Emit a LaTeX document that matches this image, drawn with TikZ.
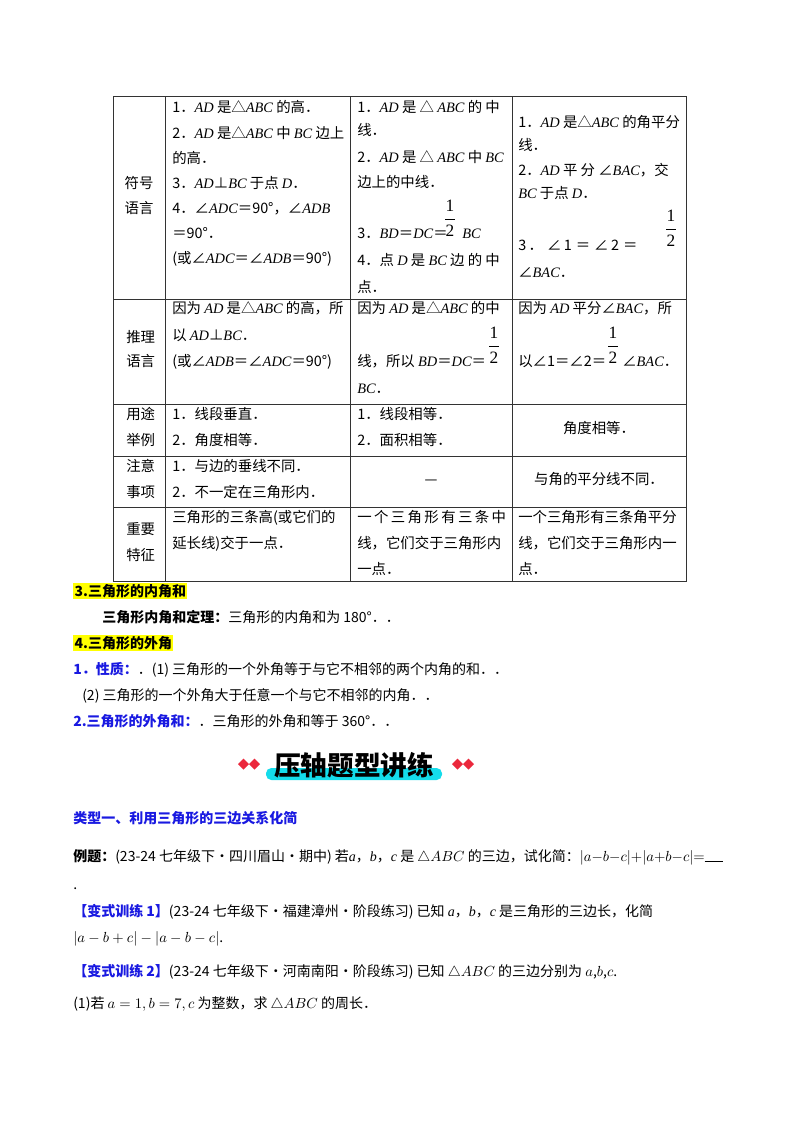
\documentclass[tikz,border=0pt]{standalone}
\usepackage{fontspec}
\setmainfont{Noto Sans CJK SC}
\newfontfamily\lserif{Liberation Serif}
\newcommand\itx[1]{{\lserif\itshape #1}}
\newcommand\rmx[1]{{\lserif #1}}
\definecolor{bl}{RGB}{25,25,225}
\definecolor{hy}{RGB}{255,255,0}
\definecolor{dred}{RGB}{235,40,60}
\definecolor{cy}{RGB}{20,220,235}
\tikzset{t/.style={anchor=base west,inner sep=0pt,font=\fontsize{10.8pt}{12pt}\selectfont},
c/.style={anchor=base,inner sep=0pt,font=\fontsize{10.8pt}{12pt}\selectfont},
q/.style={anchor=base west,inner sep=0pt,font=\fontsize{10.5pt}{12pt}\selectfont},
grid/.style={draw=black!80,line width=0.6pt}}
\newcommand\half[3]{\node[c,font=\fontsize{13pt}{14pt}\selectfont] (#1a) at (#2,#3) {\rmx{2}};
\node[c,font=\fontsize{13pt}{14pt}\selectfont] (#1b) at (#2,#3-25) {\rmx{1}};
\draw[line width=0.5pt] (#2-5,#3-17) -- (#2+5,#3-17);}
\begin{document}
\begin{tikzpicture}[x=0.75pt,y=-0.75pt]
\useasboundingbox[fill=white] (0,0) rectangle (800,1132);
% table grid
\draw[grid] (113,96) rectangle (686,581);
\foreach \xx in {165,350,512} \draw[grid] (\xx,96) -- (\xx,581);
\foreach \yy in {299,404,456,507} \draw[grid] (113,\yy) -- (686,\yy);
% row 1
\node[c] (l1a) at (139,188) {符号};
\node[c] (l1b) at (139,213) {语言};
\node[t] (a1) at (172,112) {1．\itx{AD} 是△\itx{ABC} 的高．};
\node[t] (a2) at (172,138) {2．\itx{AD} 是△\itx{ABC} 中 \itx{BC} 边上};
\node[t] (a3) at (172,163) {的高．};
\node[t] (a4) at (172,188) {3．\itx{AD}⊥\itx{BC} 于点 \itx{D}．};
\node[t] (a5) at (172,213) {4．∠\itx{ADC}＝90°，∠\itx{ADB}};
\node[t] (a6) at (172,238) {＝90°．};
\node[t] (a7) at (172,263) {(或∠\itx{ADC}＝∠\itx{ADB}＝90°)};
\node[t] (b1) at (357,112) {1．\itx{AD} 是 △ \itx{ABC} 的 中};
\node[t] (b2) at (357,135) {线．};
\node[t] (b3) at (357,162) {2．\itx{AD} 是 △ \itx{ABC} 中 \itx{BC}};
\node[t] (b4) at (357,187) {边上的中线．};
\node[t] (b5) at (357,238) {3．\itx{BD}＝\itx{DC}＝\hspace{11pt}\itx{BC}};
\half{bh}{450}{236}
\node[t] (b6) at (357,265) {4．点 \itx{D} 是 \itx{BC} 边 的 中};
\node[t] (b7) at (357,292) {点．};
\node[t] (c1) at (518,127) {1．\itx{AD} 是△\itx{ABC} 的角平分};
\node[t] (c2) at (518,150) {线．};
\node[t] (c3) at (518,175) {2．\itx{AD} 平 分 ∠\itx{BAC}，交};
\node[t] (c4) at (518,198) {\itx{BC} 于点 \itx{D}．};
\node[t] (c5) at (518,250) {3\,．\;∠\,1\;＝\;∠\,2\;＝};
\half{ch}{671}{246}
\node[t] (c6) at (518,277) {∠\itx{BAC}．};
% row 2
\node[t] (l2a) at (126,342) {推理};
\node[t] (l2b) at (126,366) {语言};
\node[t] (d1) at (172,313) {因为 \itx{AD} 是△\itx{ABC} 的高，所};
\node[t] (d2) at (172,340) {以 \itx{AD}⊥\itx{BC}．};
\node[t] (d3) at (172,366) {(或∠\itx{ADB}＝∠\itx{ADC}＝90°)};
\node[t] (e1) at (357,313) {因为 \itx{AD} 是△\itx{ABC} 的中};
\node[t] (e2) at (357,366) {线，所以 \itx{BD}＝\itx{DC}＝};
\half{eh}{494}{363}
\node[t] (e3) at (357,393) {\itx{BC}．};
\node[t] (f1) at (518,313) {因为 \itx{AD} 平分∠\itx{BAC}，所};
\node[t] (f2) at (518,366) {以∠1＝∠2＝\hspace{12pt}∠\itx{BAC}．};
\half{fh}{613}{363}
% row 3
\node[t] (l3a) at (126,419) {用途};
\node[t] (l3b) at (126,445) {举例};
\node[t] (g1) at (172,419) {1．线段垂直．};
\node[t] (g2) at (172,445) {2．角度相等．};
\node[t] (h1) at (357,419) {1．线段相等．};
\node[t] (h2) at (357,445) {2．面积相等．};
\node[c] (i1) at (599,433) {角度相等．};
% row 4
\node[t] (l4a) at (126,471) {注意};
\node[t] (l4b) at (126,497) {事项};
\node[t] (j1) at (172,471) {1．与边的垂线不同．};
\node[t] (j2) at (172,497) {2．不一定在三角形内．};
\node[c] (k1) at (431,484) {—};
\node[c] (m1) at (599,484) {与角的平分线不同．};
% row 5
\node[t] (l5a) at (126,534) {重要};
\node[t] (l5b) at (126,560) {特征};
\node[t] (n1) at (172,522) {三角形的三条高(或它们的};
\node[t] (n2) at (172,548) {延长线)交于一点．};
\node[t] (o1) at (357,522) {一\,个\,三\,角\,形\,有\,三\,条\,中};
\node[t] (o2) at (357,548) {线，它们交于三角形内};
\node[t] (o3) at (357,574) {一点．};
\node[t] (p1) at (518,522) {一个三角形有三条角平分};
\node[t] (p2) at (518,548) {线，它们交于三角形内一};
\node[t] (p3) at (518,574) {点．};
% sections
\node[q,fill=hy,inner sep=1pt] (s3) at (73,596) {\bfseries 3.三角形的内角和};
\node[q] (s3b) at (102,622) {\bfseries 三角形内角和定理：\mdseries 三角形的内角和为 180°．．};
\node[q,fill=hy,inner sep=1pt] (s4) at (73,648) {\bfseries 4.三角形的外角};
\node[q] (s5) at (73,674) {\textcolor{bl}{\bfseries 1．性质：}．(1) 三角形的一个外角等于与它不相邻的两个内角的和．．};
\node[q] (s6) at (82,700) {(2) 三角形的一个外角大于任意一个与它不相邻的内角．．};
\node[q] (s7) at (73,726) {\textcolor{bl}{\bfseries 2.三角形的外角和：}．三角形的外角和等于 360°．．};
% banner
\fill[cy,rounded corners=4pt] (266,768) rectangle (442,780) coordinate (bar);
\node[anchor=base,inner sep=0pt,font=\fontsize{20pt}{22pt}\selectfont\bfseries] (ban) at (354,775) {压轴题型讲练};
\foreach \dx in {238,249,452,463}
  \fill[dred] (\dx,764) -- ++(5.5,-5.5) -- ++(5.5,5.5) -- ++(-5.5,5.5) -- cycle;
% problems
\node[q] (q1) at (73,823) {\textcolor{bl}{\bfseries 类型一、利用三角形的三边关系化简}};
\node[q] (q2) at (73,861) {\bfseries 例题：\mdseries (23-24 七年级下·四川眉山·期中) 若\itx{a}，\itx{b}，\itx{c} 是 $\triangle ABC$ 的三边，试化简：$|a{-}b{-}c|{+}|a{+}b{-}c|{=}$\rule[-1pt]{14pt}{1pt}};
\node[q] (q3) at (73,889) {.};
\node[q] (q4) at (73,916) {\textcolor{bl}{\bfseries 【变式训练 1】}(23-24 七年级下·福建漳州·阶段练习) 已知 \itx{a}，\itx{b}，\itx{c} 是三角形的三边长，化简};
\node[q] (q5) at (73,942) {$|a-b+c|-|a-b-c|$.};
\node[q] (q6) at (73,976) {\textcolor{bl}{\bfseries 【变式训练 2】}(23-24 七年级下·河南南阳·阶段练习) 已知 $\triangle ABC$ 的三边分别为 $a$,$b$,$c$.};
\node[q] (q7) at (73,1008) {(1)若 $a=1,b=7,c$ 为整数，求 $\triangle ABC$ 的周长．};
\end{tikzpicture}
\end{document}
